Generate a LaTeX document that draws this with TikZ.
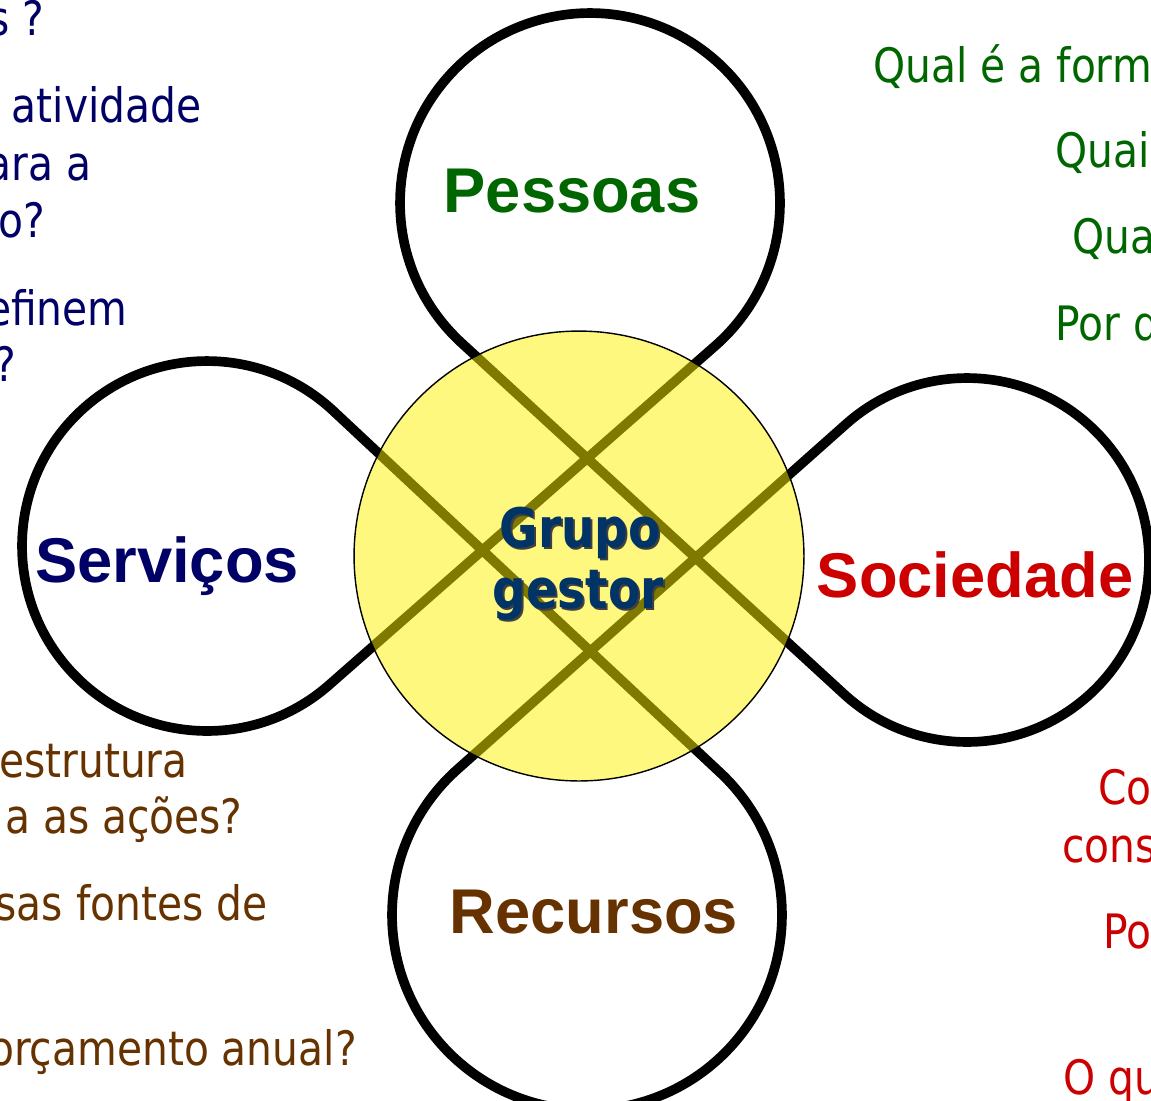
\documentclass[tikz,border=0pt]{standalone}
\usepackage{fontspec}
\usepackage{tikz}
\setmainfont{DejaVu Sans}[FakeStretch=0.86]
\newfontfamily\themefont{Liberation Sans}
\definecolor{mynavy}{RGB}{0,0,102}
\definecolor{mygreen}{RGB}{0,102,0}
\definecolor{myred}{RGB}{204,0,0}
\definecolor{mybrown}{RGB}{102,51,0}
\definecolor{mydeep}{RGB}{0,51,102}

\begin{document}
\begin{tikzpicture}[x=0.02cm,y=-0.02cm]
		\tikzset{petal/.style={draw=black, line width=5.5pt, line join=round}}
		\tikzset{question/.style={inner sep=0pt, font=\fontsize{27}{32}\selectfont}}
		\tikzset{theme/.style={inner sep=0pt, anchor=base, font=\themefont\bfseries\fontsize{36}{40}\selectfont}}
		\tikzset{grupo/.style={inner sep=0pt, anchor=base, font=\bfseries\fontsize{31}{36}\selectfont}}
		
		\useasboundingbox (0,0) rectangle (1151,1100);
		\clip (0,0) rectangle (1151,1100);
		\fill[white] (0,0) rectangle (1151,1100);
		
		\coordinate (ptop) at (590,203);
		\coordinate (pleft) at (207,546);
		\coordinate (pbot) at (587,915);
		\coordinate (pright) at (967,560);
		
		% the four loops, crossing in the middle
		\draw[petal] ([shift={(-132.6:3.8cm)}]ptop) arc[start angle=-132.6, end angle=-408.7, radius=3.8cm]
			-- ([shift={(-48.7:3.7cm)}]pleft) arc[start angle=-48.7, end angle=-313.1, radius=3.7cm]
			-- ([shift={(46.9:3.9cm)}]pbot) arc[start angle=46.9, end angle=-228.4, radius=3.9cm]
			-- ([shift={(-228.4:3.64cm)}]pright) arc[start angle=-228.4, end angle=-492.6, radius=3.64cm]
			-- cycle;
		
		\node(gg) at (579,556) [circle, minimum size=9cm, inner sep=0pt, fill=yellow, fill opacity=0.5, draw=black, line width=0.8pt] {};
		
		\node(g1s) at (582,549) [grupo, text=black!75] {Grupo};
		\node(g2s) at (580,610) [grupo, text=black!75] {gestor};
		\node(g1) at (580,547) [grupo, text=mydeep] {Grupo};
		\node(g2) at (578,608) [grupo, text=mydeep] {gestor};
		
		\node(pessoas) at (572,212) [theme, text=mygreen] {Pessoas};
		\node(servicos) at (167,582) [theme, text=mynavy] {Serviços};
		\node(sociedade) at (975,597) [theme, text=myred] {Sociedade};
		\node(recursos) at (594,933) [theme, text=mybrown] {Recursos};
		
		\node(sv1) at (45,35) [question, text=mynavy, anchor=base east] {s ?};
		\node(sv2) at (202,122) [question, text=mynavy, anchor=base east] {atividade};
		\node(sv3) at (92,180) [question, text=mynavy, anchor=base east] {ara a};
		\node(sv4) at (45,237) [question, text=mynavy, anchor=base east] {o?};
		\node(sv5) at (128,325) [question, text=mynavy, anchor=base east] {efinem};
		\node(sv6) at (17,381) [question, text=mynavy, anchor=base east] {?};
		
		\node(ps1) at (873,82) [question, text=mygreen, anchor=base west] {Qual é a form};
		\node(ps2) at (1055,167) [question, text=mygreen, anchor=base west] {Quai};
		\node(ps3) at (1072,253) [question, text=mygreen, anchor=base west] {Qua};
		\node(ps4) at (1055,340) [question, text=mygreen, anchor=base west] {Por q};
		
		\node(rc1) at (188,777) [question, text=mybrown, anchor=base east] {estrutura};
		\node(rc2) at (243,833) [question, text=mybrown, anchor=base east] {a as ações?};
		\node(rc3) at (268,920) [question, text=mybrown, anchor=base east] {sas fontes de};
		\node(rc4) at (357,1065) [question, text=mybrown, anchor=base east] {orçamento anual?};
		
		\node(sc1) at (1098,804) [question, text=myred, anchor=base west] {Co};
		\node(sc2) at (1062,862) [question, text=myred, anchor=base west] {cons};
		\node(sc3) at (1103,948) [question, text=myred, anchor=base west] {Po};
		\node(sc4) at (1063,1094) [question, text=myred, anchor=base west] {O qu};
\end{tikzpicture}
\end{document}
